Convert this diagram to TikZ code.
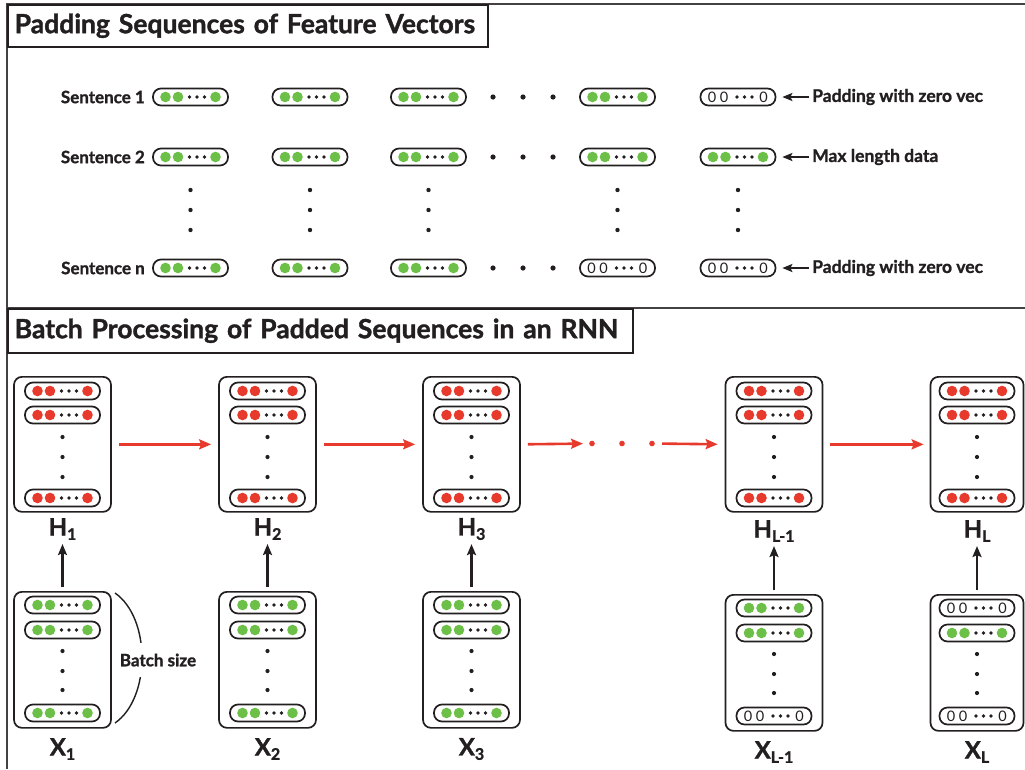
\documentclass[tikz,border=0pt]{standalone}
\usepackage{fontspec}
\setmainfont{Lato}[BoldFeatures={FakeBold=1.3}]
\usetikzlibrary{arrows.meta}
\definecolor{grn}{HTML}{6CBF47}
\definecolor{rd}{HTML}{E83A2C}
\definecolor{ink}{HTML}{231F20}
\newcommand{\mysub}[1]{\raisebox{-0.18em}{\fontsize{16}{16}\selectfont #1}}
\begin{document}
\begin{tikzpicture}[x=1pt,y=-1pt,
  frameline/.style={line width=1.8pt, draw=ink!85},
  titlebox/.style={draw=ink, line width=1.5pt, anchor=north west, inner xsep=7pt, inner ysep=0pt, align=left, text=ink},
  pillbox/.style={draw=ink, line width=1.7pt, rounded corners=8pt, minimum width=75pt, minimum height=17pt, inner sep=0pt},
  bigbox/.style={draw=ink, line width=1.7pt, rounded corners=8pt, inner sep=0pt, anchor=north},
  senlab/.style={anchor=east, inner sep=0pt, font=\fontsize{17}{19}\selectfont\bfseries, text=ink},
  ann/.style={anchor=west, inner sep=0pt, font=\fontsize{17.5}{19}\selectfont\bfseries, text=ink},
  zero/.style={font=\fontsize{14.5}{14.5}\selectfont, text=ink, inner sep=0pt},
  vlab/.style={font=\fontsize{24}{26}\selectfont\bfseries, text=ink, inner sep=1pt},
  blackarrow/.style={-{Stealth[length=11pt,width=9pt,inset=2pt]}, line width=2.6pt, draw=ink},
  thinarrow/.style={-{Stealth[length=10pt,width=8pt,inset=2pt]}, line width=2pt, draw=ink},
  redarrow/.style={-{Stealth[length=12pt,width=10pt,inset=2pt]}, line width=2.6pt, draw=rd},
  pics/vec/.style={code={
    \node[pillbox] (-b) {};
    \fill[#1] (-25,0) circle[radius=5.3pt] (-12.5,0) circle[radius=5.3pt] (25,0) circle[radius=5.3pt];
    \fill[ink] (-1,0) circle[radius=1.9pt] (6.5,0) circle[radius=1.9pt] (14,0) circle[radius=1.9pt];
  }},
  pics/zvec/.style={code={
    \node[pillbox] (-b) {};
    \node[zero] (-z1) at (-26,0) {0};
    \node[zero] (-z2) at (-14,0) {0};
    \node[zero] (-z3) at (25.5,0) {0};
    \fill[ink] (-1,0) circle[radius=1.9pt] (6.5,0) circle[radius=1.9pt] (14,0) circle[radius=1.9pt];
  }}
]
\useasboundingbox (0,0) rectangle (1025,769);
% frame
\draw[frameline] (1025,4) -- (7,4) -- (7,769);
\draw[frameline] (7,308) -- (1025,308);
\node[titlebox, minimum height=42pt, text width=466pt, font=\fontsize{26.5}{30}\selectfont\bfseries] (T1) at (7,4) {Padding Sequences of Feature Vectors};
\node[titlebox, minimum height=44pt, text width=611pt, font=\fontsize{26.5}{30}\selectfont\bfseries] (T2) at (7,308) {Batch Processing of Padded Sequences in an RNN};

% top section
\node[senlab] (s1) at (145,97) {Sentence 1};
\node[senlab] (s2) at (145,157) {Sentence 2};
\node[senlab] (sn) at (145,268) {Sentence n};

\pic (p11) at (190.5,97) {vec=grn};
\pic (p12) at (310,97) {vec=grn};
\pic (p13) at (428.5,97) {vec=grn};
\pic (p14) at (617.5,97) {vec=grn};
\pic (p15) at (738,97) {zvec};

\pic (p21) at (190.5,157) {vec=grn};
\pic (p22) at (310,157) {vec=grn};
\pic (p23) at (428.5,157) {vec=grn};
\pic (p24) at (617.5,157) {vec=grn};
\pic (p25) at (738,157) {vec=grn};

\pic (pn1) at (190.5,268) {vec=grn};
\pic (pn2) at (310,268) {vec=grn};
\pic (pn3) at (428.5,268) {vec=grn};
\pic (pn4) at (617.5,268) {zvec};
\pic (pn5) at (738,268) {zvec};

\foreach \y in {97,157,268}{
  \fill[ink] (493,\y) circle[radius=2.6pt] (523,\y) circle[radius=2.6pt] (553,\y) circle[radius=2.6pt];
}
\foreach \x in {190.5,310,428.5,617.5,738}{
  \fill[ink] (\x,190) circle[radius=2.2pt] (\x,210) circle[radius=2.2pt] (\x,230) circle[radius=2.2pt];
}

\node[ann] (a1) at (812,97) {Padding with zero vec};
\node[ann] (a2) at (812,157) {Max length data};
\node[ann] (an) at (812,268) {Padding with zero vec};
\draw[thinarrow, shorten <=3pt, shorten >=6pt] (a1.west) -- (p15-b.east);
\draw[thinarrow, shorten <=3pt, shorten >=6pt] (a2.west) -- (p25-b.east);
\draw[thinarrow, shorten <=3pt, shorten >=6pt] (an.west) -- (pn5-b.east);

% bottom section: H boxes
\foreach \i/\cx/\dy/\w/\lab in {1/62.5/0/97/1, 2/267.5/0/97/2, 3/471.5/0/97/3, 4/774/1/97/L-1, 5/977/1/93/L}{
  \node[bigbox, minimum width=\w pt, minimum height=135pt] (H\i) at (\cx,376) {};
  \pic (H\i-a) at (\cx,391) {vec=rd};
  \pic (H\i-b) at (\cx,415) {vec=rd};
  \pic (H\i-c) at (\cx,498) {vec=rd};
  \fill[ink] (\cx,437) circle[radius=2.1pt] (\cx,457) circle[radius=2.1pt] (\cx,477) circle[radius=2.1pt];
  \node[vlab] (Hl\i) at (\cx,529+2*\dy) {H\mysub{\lab}};
}
% X boxes
\foreach \i/\cx/\dy/\w/\lab in {1/62.5/0/97/1, 2/267.5/0/97/2, 3/471.5/0/97/3, 4/774/3/97/L-1, 5/977/3/93/L}{
  \node[bigbox, minimum width=\w pt, minimum height=136pt] (X\i) at (\cx,591+\dy) {};
  \fill[ink] (\cx,651+\dy) circle[radius=2.1pt] (\cx,671+\dy) circle[radius=2.1pt] (\cx,690+\dy) circle[radius=2.1pt];
  \node[vlab] (Xl\i) at (\cx,749+\dy) {X\mysub{\lab}};
  \draw[blackarrow, shorten <=4pt, shorten >=3pt] (X\i.north) -- (Hl\i.south);
}
\pic (X1-a) at (62.5,605) {vec=grn};
\pic (X1-b) at (62.5,630) {vec=grn};
\pic (X1-c) at (62.5,713) {vec=grn};
\pic (X2-a) at (267.5,605) {vec=grn};
\pic (X2-b) at (267.5,630) {vec=grn};
\pic (X2-c) at (267.5,713) {vec=grn};
\pic (X3-a) at (471.5,605) {vec=grn};
\pic (X3-b) at (471.5,630) {vec=grn};
\pic (X3-c) at (471.5,713) {vec=grn};
\pic (X4-a) at (774,608) {vec=grn};
\pic (X4-b) at (774,633) {vec=grn};
\pic (X4-c) at (774,716) {zvec};
\pic (X5-a) at (977,608) {zvec};
\pic (X5-b) at (977,633) {vec=grn};
\pic (X5-c) at (977,716) {zvec};

% red recurrent arrows
\coordinate (rd1) at (592,443.5);
\coordinate (rd2) at (622,443.5);
\coordinate (rd3) at (652,443.5);
\fill[rd] (rd1) circle[radius=2.8pt] (rd2) circle[radius=2.8pt] (rd3) circle[radius=2.8pt];
\draw[redarrow, shorten <=7pt, shorten >=7pt] (H1.east) -- (H2.west);
\draw[redarrow, shorten <=7pt, shorten >=7pt] (H2.east) -- (H3.west);
\draw[redarrow, shorten <=7pt, shorten >=9pt] (H3.east) -- (rd1);
\draw[redarrow, shorten <=10pt, shorten >=7pt] (rd3) -- (H4.west);
\draw[redarrow, shorten <=7pt, shorten >=6pt] (H4.east) -- (H5.west);

% batch size brace
\coordinate (bs1) at (115,593);
\coordinate (bs2) at (115,723);
\draw[line width=1.4pt, draw=ink] (bs1) .. controls (151,618) and (151,698) .. (bs2);
\node[fill=white, inner xsep=1pt, minimum height=34pt, font=\fontsize{17}{19}\selectfont\bfseries, text=ink] (bsz) at (158,660) {Batch size};
\end{tikzpicture}
\end{document}
